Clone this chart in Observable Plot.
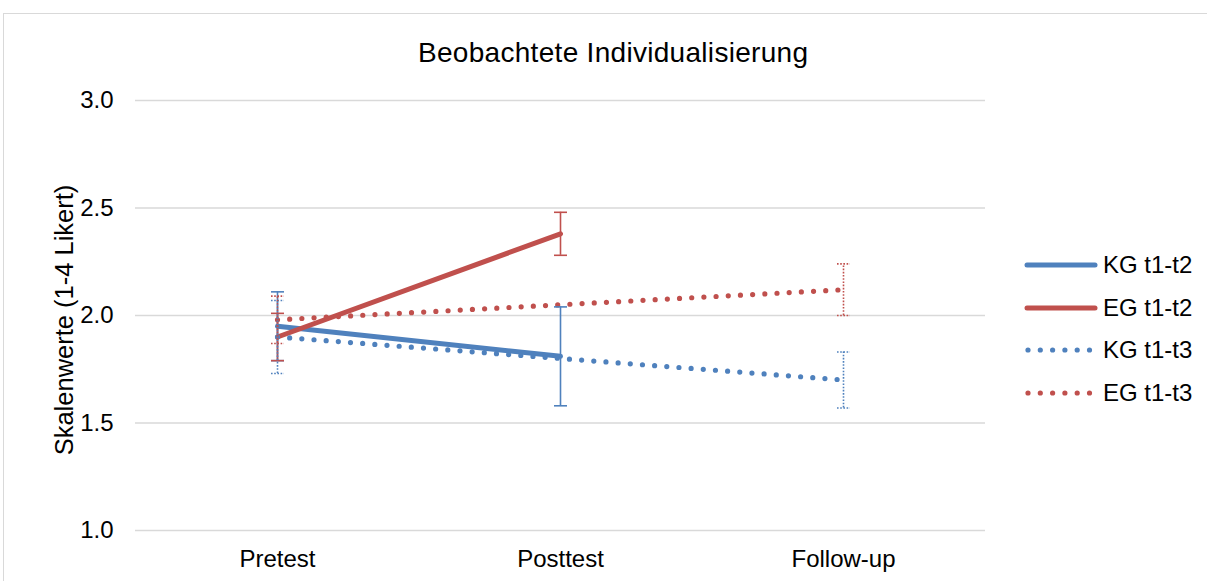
<!DOCTYPE html>
<html><head><meta charset="utf-8">
<script src="https://cdn.jsdelivr.net/npm/d3@7"></script>
<script src="https://cdn.jsdelivr.net/npm/@observablehq/plot@0.6"></script>
<style>
html,body{margin:0;padding:0;background:#fff;overflow:hidden;}
#wrap{position:relative;width:1207px;height:581px;font-family:"Liberation Sans",Arial,sans-serif;color:#000;}
#frame{position:absolute;left:3px;top:13px;width:1300px;height:700px;border-left:1px solid #d9d9d9;border-top:1px solid #d9d9d9;}
#chart{position:absolute;left:0;top:0;}
#overlay{position:absolute;left:0;top:0;pointer-events:none;}
</style>
</head><body>
<div id="wrap"><div id="frame"></div><div id="chart"></div><svg id="overlay" width="1207" height="581"></svg></div>
<script>
const title = "Beobachtete Individualisierung";
const yLabel = "Skalenwerte (1-4 Likert)";
const categories = ["Pretest", "Posttest", "Follow-up"];
const seriesNames = ["KG t1-t2", "EG t1-t2", "KG t1-t3", "EG t1-t3"];
const kg12 = [1.95, 1.81];
const kg12Err = [0.16, 0.23];
const eg12 = [1.90, 2.38];
const eg12Err = [0.11, 0.10];
const kg13 = [1.90, 1.80, 1.70];
const kg13Err = [0.17, null, 0.13];
const eg13 = [1.98, 2.05, 2.12];
const eg13Err = [0.11, null, 0.12];
const yTicks = [1.0, 1.5, 2.0, 2.5, 3.0];

const blue = "#4F81BD", red = "#C0504D";
const font = "'Liberation Sans', Arial, sans-serif";

function rows(values, errs) {
  return values.map((v, i) => ({cat: categories[i], v, e: errs[i], lo: errs[i] == null ? null : v - errs[i], hi: errs[i] == null ? null : v + errs[i]}));
}
const dKG12 = rows(kg12, kg12Err);
const dEG12 = rows(eg12, eg12Err);
const dKG13 = rows(kg13, kg13Err);
const dEG13 = rows(eg13, eg13Err);

const capSymbol = {draw(ctx, size) { const r = Math.sqrt(size / Math.PI); ctx.moveTo(-r, 0); ctx.lineTo(r, 0); }};

function errMarks(data, color, dotted) {
  const d = data.filter(r => r.e != null);
  const dash = dotted ? "1.6 1.6" : null;
  const caps = d.flatMap(r => [{cat: r.cat, y: r.lo}, {cat: r.cat, y: r.hi}]);
  return [
    Plot.ruleX(d, {x: "cat", y1: "lo", y2: "hi", stroke: color, strokeWidth: 1.6, strokeDasharray: dash}),
    Plot.dot(caps, {x: "cat", y: "y", symbol: capSymbol, r: 6.5, stroke: color, fill: "none", strokeWidth: 1.6, strokeDasharray: dash})
  ];
}

const chart = Plot.plot({
  width: 1207,
  height: 581,
  marginTop: 100,
  marginBottom: 51,
  marginLeft: 135,
  marginRight: 222,
  style: {fontFamily: font, fontSize: "24px", color: "#000", background: "transparent", overflow: "visible"},
  x: {type: "point", domain: categories, padding: 0.5},
  y: {domain: [1, 3]},
  marks: [
    Plot.ruleY(yTicks, {stroke: "#d9d9d9", strokeWidth: 1.3}),
    Plot.axisY({ticks: yTicks, tickFormat: d => d.toFixed(1), tickSize: 0, tickPadding: 22, label: null, fill: "#000"}),
    Plot.axisX({tickSize: 0, tickPadding: 19, label: null, fill: "#000"}),
    Plot.line(dKG12, {x: "cat", y: "v", stroke: blue, strokeWidth: 5, strokeLinecap: "round"}),
    Plot.line(dEG12, {x: "cat", y: "v", stroke: red, strokeWidth: 5, strokeLinecap: "round"}),
    Plot.line(dKG13, {x: "cat", y: "v", stroke: blue, strokeWidth: 5.2, strokeDasharray: "0 12.2", strokeLinecap: "round"}),
    Plot.line(dEG13, {x: "cat", y: "v", stroke: red, strokeWidth: 5.2, strokeDasharray: "0 12.2", strokeLinecap: "round"}),
    ...errMarks(dKG12, blue, false),
    ...errMarks(dEG12, red, false),
    ...errMarks(dKG13, blue, true),
    ...errMarks(dEG13, red, true)
  ]
});
document.getElementById("chart").appendChild(chart);

// Title, y-axis label and legend as real text in an overlay
const ov = d3.select("#overlay").style("font-family", font);
ov.append("text").attr("x", 613).attr("y", 62).attr("text-anchor", "middle")
  .attr("font-size", 28).attr("textLength", 390).attr("lengthAdjust", "spacing").attr("fill", "#000").text(title);
ov.append("text").attr("transform", "translate(73,320) rotate(-90)").attr("text-anchor", "middle")
  .attr("font-size", 25.5).attr("fill", "#000").text(yLabel);

const legendColors = [blue, red, blue, red];
const legendDotted = [false, false, true, true];
const legendY = [265, 308, 350, 393];
seriesNames.forEach((name, i) => {
  const g = ov.append("g").attr("transform", `translate(0,${legendY[i]})`);
  g.append("line").attr("x1", legendDotted[i] ? 1028 : 1027).attr("x2", legendDotted[i] ? 1090 : 1095).attr("y1", 0).attr("y2", 0)
    .attr("stroke", legendColors[i]).attr("stroke-width", legendDotted[i] ? 5.2 : 5)
    .attr("stroke-linecap", "round").attr("stroke-dasharray", legendDotted[i] ? "0 12.3" : null);
  g.append("text").attr("x", 1103).attr("y", 8.3).attr("font-size", 24).attr("fill", "#000").text(name);
});
</script>
</body></html>
